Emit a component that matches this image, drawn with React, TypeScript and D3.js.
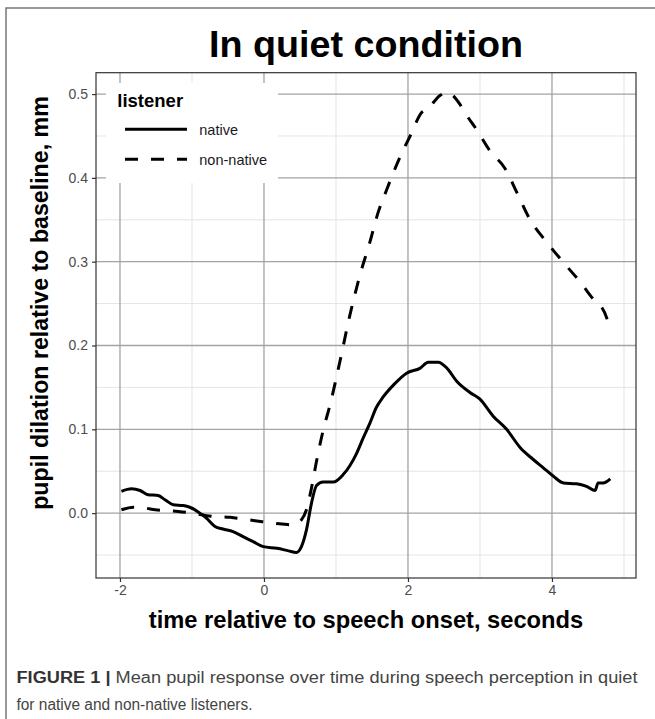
import React, { useEffect, useRef } from 'react';
import * as d3 from 'd3';

// time (s) and pupil dilation (mm)
const nativeTime = [-1.98, -1.84, -1.72, -1.61, -1.47, -1.375, -1.26, -1.12, -1.03, -0.89, -0.8, -0.68, -0.57, -0.43, -0.29, -0.15, -0.01, 0.18, 0.34, 0.45, 0.52, 0.59, 0.66, 0.73, 0.82, 0.96, 1.1, 1.29, 1.38, 1.47, 1.56, 1.65, 1.8, 1.98, 2.17, 2.28, 2.42, 2.54, 2.68, 2.86, 3.0, 3.18, 3.37, 3.56, 3.74, 3.88, 4.02, 4.16, 4.34, 4.48, 4.6, 4.64, 4.71, 4.81];
const nativeValue = [0.026, 0.029, 0.027, 0.022, 0.021, 0.016, 0.01, 0.009, 0.007, 0.0, -0.006, -0.016, -0.019, -0.022, -0.028, -0.034, -0.04, -0.042, -0.045, -0.047, -0.04, -0.02, 0.012, 0.033, 0.037, 0.037, 0.046, 0.072, 0.09, 0.107, 0.126, 0.138, 0.153, 0.167, 0.173, 0.18, 0.18, 0.173, 0.157, 0.144, 0.136, 0.116, 0.1, 0.078, 0.064, 0.054, 0.044, 0.036, 0.035, 0.032, 0.027, 0.036, 0.036, 0.041];

const nonNativeTime = [-1.98, -1.81, -1.65, -1.51, -1.35, -1.19, -1.0, -0.8, -0.47, -0.125, 0.25, 0.41, 0.52, 0.59, 0.66, 0.73, 0.82, 0.92, 1.06, 1.19, 1.33, 1.47, 1.59, 1.7, 1.89, 2.03, 2.19, 2.28, 2.44, 2.54, 2.6, 2.72, 2.79, 2.95, 3.14, 3.35, 3.51, 3.69, 3.93, 4.16, 4.4, 4.6, 4.68, 4.76, 4.8];
const nonNativeValue = [0.004, 0.007, 0.006, 0.004, 0.003, 0.002, 0.0, -0.003, -0.005, -0.009, -0.013, -0.014, -0.008, 0.004, 0.03, 0.062, 0.098, 0.13, 0.183, 0.235, 0.283, 0.323, 0.36, 0.385, 0.425, 0.45, 0.478, 0.483, 0.498, 0.502, 0.5, 0.488, 0.478, 0.458, 0.432, 0.411, 0.383, 0.351, 0.323, 0.299, 0.275, 0.253, 0.247, 0.233, 0.221];

const xTicks = [-2, 0, 2, 4];
const xMinor = [-1, 1, 3, 5];
const yTicks = [0.0, 0.1, 0.2, 0.3, 0.4, 0.5];
const yMinor = [-0.05, 0.05, 0.15, 0.25, 0.35, 0.45];

const legendLabels = ['native', 'non-native'];
const legendDash = ['none', '13,13'];

const FONT = '"Liberation Sans", Arial, sans-serif';

const App: React.FC = () => {
  const svgRef = useRef<SVGSVGElement | null>(null);

  useEffect(() => {
    if (!svgRef.current) return;
    const svg = d3.select(svgRef.current);
    svg.selectAll('*').remove();

    const width = 655;
    const height = 719;
    const panel = { left: 96, right: 636, top: 72.7, bottom: 578 };

    svg.append('rect').attr('width', width).attr('height', height).attr('fill', '#fff');

    // figure frame (top + left only)
    svg.append('path')
      .attr('d', `M6,${height} L6,8 L${width},8`)
      .attr('fill', 'none')
      .attr('stroke', '#777')
      .attr('stroke-width', 1.5);

    const x = d3.scaleLinear().domain([-2.333, 5.167]).range([panel.left, panel.right]);
    const y = d3.scaleLinear().domain([-0.0774, 0.5255]).range([panel.bottom, panel.top]);

    const g = svg.append('g');

    // minor grid
    g.selectAll('.vminor').data(xMinor).enter().append('line')
      .attr('x1', d => x(d)).attr('x2', d => x(d))
      .attr('y1', panel.top).attr('y2', panel.bottom)
      .attr('stroke', '#e4e4e4').attr('stroke-width', 1);
    g.selectAll('.hminor').data(yMinor).enter().append('line')
      .attr('y1', d => y(d)).attr('y2', d => y(d))
      .attr('x1', panel.left).attr('x2', panel.right)
      .attr('stroke', '#e4e4e4').attr('stroke-width', 1);

    // major grid
    g.selectAll('.vmajor').data(xTicks).enter().append('line')
      .attr('x1', d => x(d)).attr('x2', d => x(d))
      .attr('y1', panel.top).attr('y2', panel.bottom)
      .attr('stroke', '#a3a3a3').attr('stroke-width', 1.3);
    g.selectAll('.hmajor').data(yTicks).enter().append('line')
      .attr('y1', d => y(d)).attr('y2', d => y(d))
      .attr('x1', panel.left).attr('x2', panel.right)
      .attr('stroke', '#a3a3a3').attr('stroke-width', 1.3);

    // legend background (sits on the panel, covers the grid)
    const legend = svg.append('g');
    legend.append('rect')
      .attr('x', 106).attr('y', 83).attr('width', 172).attr('height', 100)
      .attr('fill', '#fff');

    // lines
    const line = d3.line<[number, number]>()
      .x(d => x(d[0]))
      .y(d => y(d[1]))
      .curve(d3.curveMonotoneX);

    const nativeData = nativeTime.map((t, i) => [t, nativeValue[i]] as [number, number]);
    const nonNativeData = nonNativeTime.map((t, i) => [t, nonNativeValue[i]] as [number, number]);

    svg.append('path')
      .attr('d', line(nonNativeData))
      .attr('fill', 'none')
      .attr('stroke', '#000')
      .attr('stroke-width', 3)
      .attr('stroke-dasharray', '13,13');

    svg.append('path')
      .attr('d', line(nativeData))
      .attr('fill', 'none')
      .attr('stroke', '#000')
      .attr('stroke-width', 3)
      .attr('stroke-linejoin', 'round');

    // panel border
    svg.append('rect')
      .attr('x', panel.left).attr('y', panel.top)
      .attr('width', panel.right - panel.left).attr('height', panel.bottom - panel.top)
      .attr('fill', 'none').attr('stroke', '#333').attr('stroke-width', 1.2);

    // axes
    const xAxis = d3.axisBottom(x).tickValues(xTicks).tickSize(4).tickPadding(3).tickFormat(d3.format('d'));
    const yAxis = d3.axisLeft(y).tickValues(yTicks).tickSize(4).tickPadding(4).tickFormat(d3.format('.1f'));

    const gx = svg.append('g').attr('transform', `translate(0,${panel.bottom})`).call(xAxis);
    const gy = svg.append('g').attr('transform', `translate(${panel.left},0)`).call(yAxis);
    [gx, gy].forEach(a => {
      a.select('.domain').remove();
      a.selectAll('line').attr('stroke', '#333').attr('stroke-width', 1.2);
      a.selectAll('text')
        .attr('fill', '#4d4d4d')
        .style('font-family', FONT)
        .style('font-size', '14px');
    });
    gx.selectAll('text').text(d => String(d).replace('-', '-'));

    // legend contents
    legend.append('text')
      .attr('x', 117.3).attr('y', 106.7)
      .style('font-family', FONT).style('font-size', '18.5px').style('font-weight', 'bold')
      .attr('fill', '#000')
      .text('listener');
    legendLabels.forEach((lab, i) => {
      const ky = 129.3 + i * 30;
      legend.append('line')
        .attr('x1', 125).attr('x2', 187).attr('y1', ky).attr('y2', ky)
        .attr('stroke', '#000').attr('stroke-width', 3)
        .attr('stroke-dasharray', legendDash[i]);
      legend.append('text')
        .attr('x', 199.3).attr('y', ky + 5.3)
        .style('font-family', FONT).style('font-size', '14.5px')
        .attr('fill', '#1a1a1a')
        .text(lab);
    });

    // titles
    svg.append('text')
      .attr('x', (panel.left + panel.right) / 2).attr('y', 57.3)
      .attr('text-anchor', 'middle')
      .style('font-family', FONT).style('font-size', '37.7px').style('font-weight', 'bold')
      .text('In quiet condition');

    svg.append('text')
      .attr('x', (panel.left + panel.right) / 2).attr('y', 628)
      .attr('text-anchor', 'middle')
      .style('font-family', FONT).style('font-size', '23.7px').style('font-weight', 'bold')
      .text('time relative to speech onset, seconds');

    svg.append('text')
      .attr('transform', 'translate(48,303) rotate(-90)')
      .attr('text-anchor', 'middle')
      .style('font-family', FONT).style('font-size', '23.2px').style('font-weight', 'bold')
      .text('pupil dilation relative to baseline, mm');

    // caption
    const cap1 = svg.append('text')
      .attr('x', 16.5).attr('y', 683)
      .attr('textLength', 621).attr('lengthAdjust', 'spacingAndGlyphs')
      .style('font-family', FONT).style('font-size', '16px');
    cap1.append('tspan').attr('fill', '#333').style('font-weight', 'bold').text('FIGURE 1 |');
    cap1.append('tspan').attr('fill', '#444').text(' Mean pupil response over time during speech perception in quiet');

    svg.append('text')
      .attr('x', 16.5).attr('y', 709.5)
      .attr('textLength', 236).attr('lengthAdjust', 'spacingAndGlyphs')
      .attr('fill', '#444')
      .style('font-family', FONT).style('font-size', '16px')
      .text('for native and non-native listeners.');
  }, []);

  return (
    <svg
      ref={svgRef}
      width={655}
      height={719}
      style={{ position: 'absolute', left: 0, top: 0, display: 'block' }}
    ></svg>
  );
};

export default App;
